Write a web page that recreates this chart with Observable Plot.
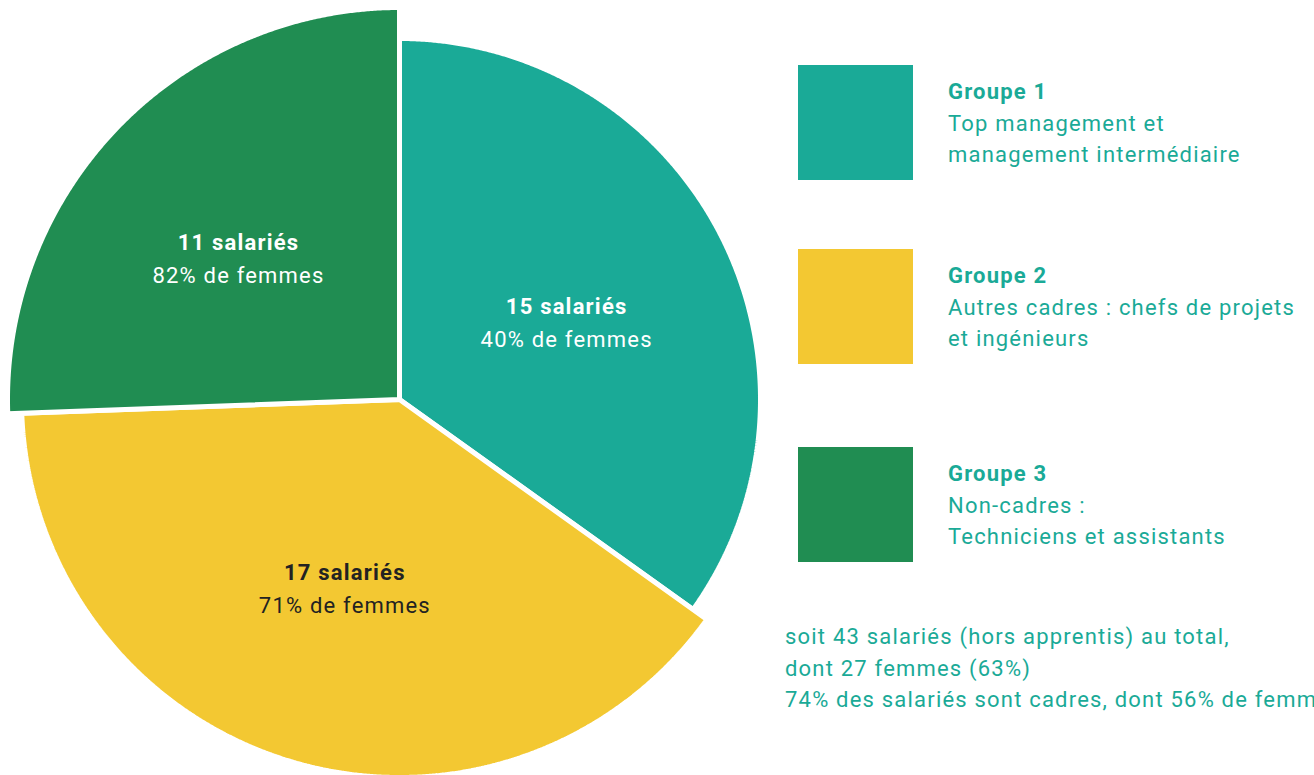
<!DOCTYPE html>
<html>
<head>
<meta charset="utf-8">
<script src="https://cdn.jsdelivr.net/npm/d3@7"></script>
<script src="https://cdn.jsdelivr.net/npm/@observablehq/plot@0.6"></script>
<style>
  html, body { margin: 0; padding: 0; background: #fff; width: 1314px; height: 775px; overflow: hidden; }
  body { position: relative; font-family: Roboto, "Noto Sans", sans-serif; letter-spacing: 1.2px; }
  #chart { position: absolute; left: 0; top: 0; }
  .item { position: absolute; left: 798px; }
  .swatch { position: absolute; left: 0; top: 0; width: 115px; height: 115px; }
  .ltext { position: absolute; left: 150px; top: 11px; white-space: nowrap; color: #1aaa97; font-size: 22px; line-height: 31.5px; }
  .ltext b { font-weight: 700; }
  #summary { position: absolute; left: 785px; top: 621px; white-space: nowrap; color: #1aaa97; font-size: 22px; line-height: 31.5px; }
</style>
</head>
<body>
<div id="chart"></div>
<div id="legend"></div>
<div id="summary"></div>
<script>
const groups = ["Groupe 1", "Groupe 2", "Groupe 3"];
const descriptions = [
  ["Top management et", "management intermédiaire"],
  ["Autres cadres : chefs de projets", "et ingénieurs"],
  ["Non-cadres :", "Techniciens et assistants"]
];
const salaries = [15, 17, 11];
const femmesPct = [40, 71, 82];
const colors = ["#1aaa97", "#f3c832", "#208d52"];
const summaryLines = [
  "soit 43 salariés (hors apprentis) au total,",
  "dont 27 femmes (63%)",
  "74% des salariés sont cadres, dont 56% de femmes"
];

// style / layout
const sliceRadius = {"Groupe 1": 361, "Groupe 2": 378, "Groupe 3": 392};
const textFill = {"Groupe 1": "white", "Groupe 2": "#222222", "Groupe 3": "white"};
const labelFactor = {"Groupe 1": 0.53, "Groupe 2": 0.52, "Groupe 3": 0.56};
const labelShift = {"Groupe 1": [-3, -11], "Groupe 2": [2, -1], "Groupe 3": [-3, -12]};
const legendTops = [65, 249, 447];
const cx = 399, cy = 399, W = 780, H = 775;

const table = groups.map((g, i) => ({group: g, salaries: salaries[i], femmes: femmesPct[i]}));
const arcs = d3.pie().sort(null).value(d => d.salaries)(table);

const polyPts = [];
const labels = [];
for (const a of arcs) {
  const g = a.data.group, r = sliceRadius[g];
  polyPts.push({group: g, x: 0, y: 0});
  const n = Math.ceil((a.endAngle - a.startAngle) / (Math.PI / 720));
  for (let k = 0; k <= n; k++) {
    const t = a.startAngle + (a.endAngle - a.startAngle) * k / n;
    polyPts.push({group: g, x: r * Math.sin(t), y: r * Math.cos(t)});
  }
  polyPts.push({group: g, x: 0, y: 0});
  const m = (a.startAngle + a.endAngle) / 2, lr = r * labelFactor[g];
  labels.push({group: g,
    x: lr * Math.sin(m) + labelShift[g][0], y: lr * Math.cos(m) + labelShift[g][1],
    l1: `${a.data.salaries} salariés`, l2: `${a.data.femmes}% de femmes`});
}

const plot = Plot.plot({
  width: W, height: H,
  margin: 0,
  x: {domain: [-cx, W - cx], axis: null},
  y: {domain: [-(H - cy), cy], axis: null},
  color: {domain: groups, range: colors},
  style: {fontFamily: "Roboto, 'Noto Sans', sans-serif", background: "transparent", letterSpacing: "1.2px"},
  marks: [
    Plot.line(polyPts, {x: "x", y: "y", z: "group", fill: "group", stroke: "white", strokeWidth: 5, strokeLinejoin: "miter", curve: "linear"}),
    Plot.text(labels, {x: "x", y: "y", text: "l1", dy: -16, fontSize: 22, fontWeight: 700, fill: d => textFill[d.group]}),
    Plot.text(labels, {x: "x", y: "y", text: "l2", dy: 17, fontSize: 22, fill: d => textFill[d.group]})
  ]
});
document.getElementById("chart").append(plot);

const legend = document.getElementById("legend");
groups.forEach((g, i) => {
  const item = document.createElement("div");
  item.className = "item";
  item.style.top = legendTops[i] + "px";
  item.innerHTML = `<div class="swatch" style="background:${colors[i]}"></div>
    <div class="ltext"><b>${g}</b><br>${descriptions[i].join("<br>")}</div>`;
  legend.append(item);
});
document.getElementById("summary").innerHTML = summaryLines.join("<br>");
</script>
</body>
</html>
